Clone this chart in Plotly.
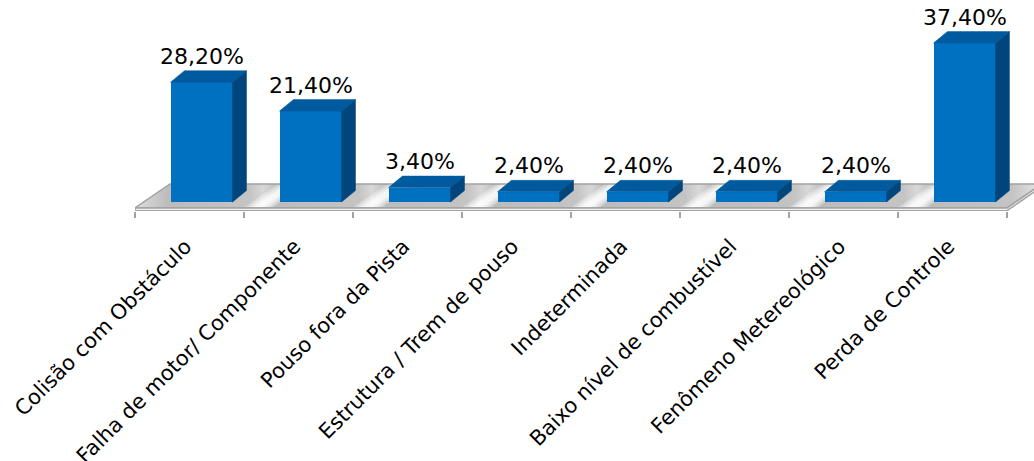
import plotly.graph_objects as go

# ---- data -------------------------------------------------------------
categories = [
    "Colisão com Obstáculo",
    "Falha de motor/ Componente",
    "Pouso fora da Pista",
    "Estrutura / Trem de pouso",
    "Indeterminada",
    "Baixo nível de combustível",
    "Fenômeno Metereológico",
    "Perda de Controle",
]
percentages = [28.2, 21.4, 3.4, 2.4, 2.4, 2.4, 2.4, 37.4]

# ---- 3-D look geometry (axis units) ----------------------------------
BAR_OFFSET = -0.174      # front face left edge relative to category centre
BAR_WIDTH = 0.569        # front face width
DEPTH_X = 0.128          # bar depth, horizontal component
DEPTH_Y = 2.7            # bar depth, vertical component (in %)
FLOOR_FRONT = -1.41      # top front edge of the floor slab
FLOOR_BOTTOM = -2.05     # lower front edge of the slab
FLOOR_DX = 0.321         # floor depth, horizontal
FLOOR_DY = 5.65          # floor depth, vertical

X_RANGE = [-0.5, 7.748]
Y_RANGE = [-2.12, 45.18]

FRONT = "#0070c0"
TOP = "#005a9e"
SIDE = "#00467c"
EDGE = "#a3a3a3"
FONT = "DejaVu Sans"

n = len(categories)
idx = list(range(n))

fig = go.Figure()

# ---- floor slab (base subplot, drawn underneath the bars) ------------
x0, x1 = -0.5, n - 0.5
back = FLOOR_FRONT + FLOOR_DY
floor_x = [x0, x1, x1 + FLOOR_DX, x0 + FLOOR_DX, x0]
floor_y = [FLOOR_FRONT, FLOOR_FRONT, back, back, FLOOR_FRONT]

g_start, g_stop = x0, x1 + FLOOR_DX


def gpos(x):
    return (x - g_start) / (g_stop - g_start)


stops = [[0.0, "#dedede"]]
for i in idx:
    left = i + BAR_OFFSET
    right = i + BAR_OFFSET + BAR_WIDTH + DEPTH_X
    stops.append([gpos(left - 0.02), "#bcbcbc"])
    stops.append([gpos(right + 0.03), "#c4c4c4"])
    if i < n - 1:
        nxt = i + 1 + BAR_OFFSET
        stops.append([gpos((right + nxt) / 2), "#d8d8d8"])
stops.append([1.0, "#e8e8e8"])

fig.add_trace(go.Scatter(
    x=floor_x, y=floor_y, mode="lines", fill="toself",
    fillgradient=dict(type="horizontal", colorscale=stops, start=g_start, stop=g_stop),
    line=dict(width=0), hoverinfo="skip", showlegend=False,
    xaxis="x", yaxis="y",
))

# soft white highlight stripes running along the floor depth, one per gap
for half_w, alpha in [(0.13, 0.35), (0.09, 0.45), (0.05, 0.6)]:
    sx, sy = [], []
    for i in idx:
        right = i + BAR_OFFSET + BAR_WIDTH + DEPTH_X
        c = right + 0.10
        lo, hi = max(c - half_w, x0), c + half_w
        sx += [lo, hi, hi + FLOOR_DX, lo + FLOOR_DX, lo, None]
        sy += [FLOOR_FRONT, FLOOR_FRONT, back, back, FLOOR_FRONT, None]
    fig.add_trace(go.Scatter(
        x=sx, y=sy, mode="lines", fill="toself",
        fillcolor=f"rgba(255,255,255,{alpha})", line=dict(width=0),
        hoverinfo="skip", showlegend=False, xaxis="x", yaxis="y",
    ))

# floor outline and front edge of the slab
fig.add_trace(go.Scatter(
    x=floor_x, y=floor_y, mode="lines", line=dict(color=EDGE, width=1.5),
    hoverinfo="skip", showlegend=False, xaxis="x", yaxis="y",
))
fig.add_trace(go.Scatter(
    x=[x0, x1, x1 + FLOOR_DX, x1 + FLOOR_DX, x1, x0, x0],
    y=[FLOOR_FRONT, FLOOR_FRONT, back, FLOOR_BOTTOM + FLOOR_DY,
       FLOOR_BOTTOM, FLOOR_BOTTOM, FLOOR_FRONT],
    mode="lines", fill="toself", fillcolor="#f2f2f2",
    line=dict(color=EDGE, width=1.5), hoverinfo="skip", showlegend=False,
    xaxis="x", yaxis="y",
))

# ---- bars (overlay subplot so they sit on top of the floor) ----------
fig.add_trace(go.Bar(
    x=idx, y=percentages, base=0, width=BAR_WIDTH, offset=BAR_OFFSET,
    marker=dict(color=FRONT, line=dict(width=0)),
    showlegend=False, xaxis="x2", yaxis="y2",
))

top_x, top_y, side_x, side_y = [], [], [], []
for i, v in zip(idx, percentages):
    xl = i + BAR_OFFSET
    xr = xl + BAR_WIDTH
    top_x += [xl, xr, xr + DEPTH_X, xl + DEPTH_X, xl, None]
    top_y += [v, v, v + DEPTH_Y, v + DEPTH_Y, v, None]
    side_x += [xr, xr + DEPTH_X, xr + DEPTH_X, xr, xr, None]
    side_y += [0, DEPTH_Y, v + DEPTH_Y, v, 0, None]

fig.add_trace(go.Scatter(
    x=top_x, y=top_y, mode="lines", fill="toself", fillcolor=TOP,
    line=dict(color=TOP, width=0.5), hoverinfo="skip", showlegend=False,
    xaxis="x2", yaxis="y2",
))
fig.add_trace(go.Scatter(
    x=side_x, y=side_y, mode="lines", fill="toself", fillcolor=SIDE,
    line=dict(color=SIDE, width=0.5), hoverinfo="skip", showlegend=False,
    xaxis="x2", yaxis="y2",
))

# value labels
for i, v in zip(idx, percentages):
    fig.add_annotation(
        x=i + BAR_OFFSET + BAR_WIDTH / 2, y=v + DEPTH_Y, xref="x2", yref="y2",
        text=f"{v:.2f}".replace(".", ",") + "%", showarrow=False,
        yanchor="bottom", xanchor="center", yshift=0,
        font=dict(family=FONT, size=22, color="#000000"),
    )

fig.update_layout(
    width=1034, height=461,
    margin=dict(l=135, r=0, t=10, b=250, autoexpand=False),
    paper_bgcolor="#ffffff", plot_bgcolor="rgba(0,0,0,0)",
    showlegend=False, bargap=0,
    xaxis=dict(
        range=X_RANGE, tickmode="array", tickvals=idx, ticktext=categories,
        tickangle=-45, ticks="", showgrid=False, zeroline=False, showline=False,
        ticklabelstandoff=18, ticklabelshift=-4,
        tickfont=dict(family=FONT, size=21, color="#000000"), automargin=False,
    ),
    yaxis=dict(range=Y_RANGE, visible=False, fixedrange=True),
    xaxis2=dict(
        range=X_RANGE, overlaying="x", anchor="y2", side="bottom",
        tickmode="array", tickvals=[k - 0.5 for k in range(n + 1)],
        showticklabels=False, ticks="outside", ticklen=6, tickwidth=1.5,
        tickcolor=EDGE, showgrid=False, zeroline=False, showline=False,
    ),
    yaxis2=dict(range=Y_RANGE, overlaying="y", visible=False, fixedrange=True),
)

fig.write_html("out.html")
